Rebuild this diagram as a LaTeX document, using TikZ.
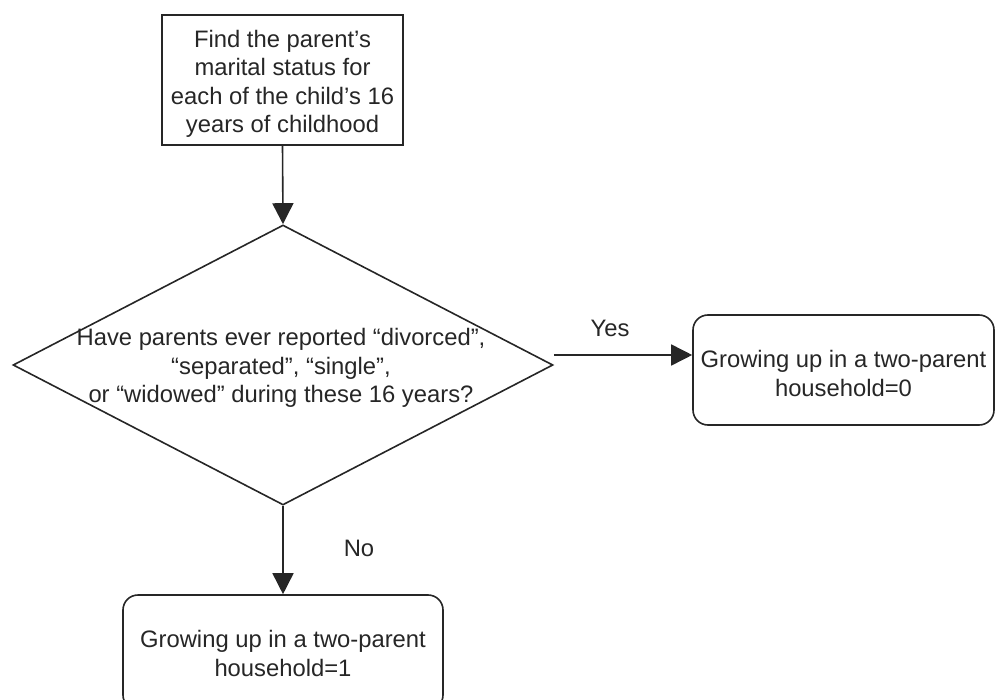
\documentclass[tikz,border=0pt]{standalone}
\usepackage{fontspec}
\setmainfont{Liberation Sans}
\usetikzlibrary{shapes.geometric,arrows.meta}
\begin{document}
\begin{tikzpicture}[x=1pt,y=-1pt,
  every node/.style={font=\fontsize{23.8}{28.5}\selectfont, text=black!85},
  box/.style={draw=black!85, line width=1.6pt, inner sep=0pt},
  rbox/.style={box, rounded corners=15pt},
  txt/.style={align=center, inner sep=0pt},
  arr/.style={draw=black!85, line width=1.6pt, -{Triangle[length=21pt,width=21pt]}},
  lbl/.style={inner sep=0pt}]
\useasboundingbox (0,0) rectangle (995,700);
\node[box, minimum width=241pt, minimum height=130pt] (start) at (282.5,80) {};
\node[txt] (startT) at ([yshift=-4pt]start.center)
  {Find the parent’s\\marital status for\\each of the child’s 16\\years of childhood};
\node[draw=black!85, line width=1.6pt, diamond, aspect=1.93, inner sep=0pt,
  minimum width=540pt, minimum height=280pt] (dia) at (283,365) {};
\node[txt] (q) at ([xshift=-2pt,yshift=-3pt]dia.center)
  {Have parents ever reported “divorced”,\\“separated”, “single”,\\or “widowed” during these 16 years?};
\node[rbox, minimum width=301pt, minimum height=110pt] (yesbox) at (843.5,370) {};
\node[txt] (yesT) at ([yshift=-3.5pt]yesbox.center)
  {Growing up in a two-parent\\household=0};
\node[rbox, minimum width=320pt, minimum height=115pt] (nobox) at (283,652.5) {};
\node[txt] (noT) at ([yshift=-1pt]nobox.center)
  {Growing up in a two-parent\\household=1};
\draw[arr] (start.south) -- (dia.north);
\draw[arr] ([yshift=10pt]dia.east) -- ([yshift=10pt]dia.east -| yesbox.west);
\draw[arr] (dia.south) -- (nobox.north);
\node[lbl] (yes) at (610,328) {Yes};
\node[lbl] (no) at (359,548) {No};
\end{tikzpicture}
\end{document}
